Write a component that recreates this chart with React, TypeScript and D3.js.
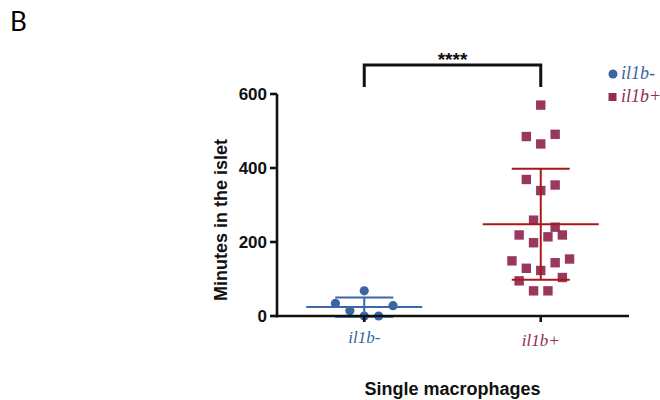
import React from "react";
import * as d3 from "d3";

const categories = ["il1b-", "il1b+"];
const negValues = [68, 34, 28, 14, 0, 0];
const negSlots = [0, -4, 4, -2, 0, 2];
const posValues = [570, 485, 491, 465, 369, 354, 339, 259, 240, 219, 198, 214, 219, 149, 129, 123, 144, 154, 95, 104, 68, 68];
const posSlots = [0, -2, 2, 0, -2, 2, 0, -1, 2, -3, -1, 1, 3, -4, -2, 0, 2, 4, -3, 3, -1, 1];
const yTicks = [0, 200, 400, 600];
const significance = "****";
const xTitle = "Single macrophages";
const yTitle = "Minutes in the islet";
const panelLabel = "B";

const BLUE = "#3B64A3";
const BLUE_LINE = "#3C67A8";
const RED = "#922D55";
const RED_LINE = "#A81818";

export default function App() {
  const W = 660, H = 400;
  const y = d3.scaleLinear().domain([0, 600]).range([316, 94]);
  const x = d3.scalePoint<string>().domain(categories).range([276, 629]).padding(0.5);
  const jit = 7.2;
  const serif = "'Liberation Serif', 'DejaVu Serif', serif";
  const sans = "'Liberation Sans', Arial, sans-serif";

  const groups = [
    { cat: categories[0], vals: negValues, slots: negSlots, color: BLUE, line: BLUE_LINE, shape: "circle" },
    { cat: categories[1], vals: posValues, slots: posSlots, color: RED, line: RED_LINE, shape: "square" },
  ];

  const x0 = x(categories[0])!;
  const x1 = x(categories[1])!;

  return (
    <svg width={W} height={H} style={{ position: "absolute", left: 0, top: 0, background: "#fff" }}>
      <text x={10} y={31} fontFamily="Lato, 'Open Sans', sans-serif" fontSize={26}>{panelLabel}</text>

      {/* points */}
      {groups.map((g) =>
        g.vals.map((v, i) => {
          const cx = x(g.cat)! + g.slots[i] * jit;
          const cy = y(v);
          return g.shape === "circle" ? (
            <circle key={g.cat + i} cx={cx} cy={cy} r={4.6} fill={g.color} />
          ) : (
            <rect key={g.cat + i} x={cx - 4.7} y={cy - 4.7} width={9.4} height={9.4} fill={g.color} opacity={0.95} />
          );
        })
      )}

      {/* error bars */}
      {groups.map((g) => {
        const m = d3.mean(g.vals)!;
        const sd = d3.deviation(g.vals)!;
        const cx = x(g.cat)!;
        return (
          <g key={"eb" + g.cat} stroke={g.line} strokeWidth={2}>
            <line x1={cx - 58} x2={cx + 58} y1={y(m)} y2={y(m)} />
            <line x1={cx} x2={cx} y1={y(m + sd)} y2={y(m - sd)} />
            <line x1={cx - 29} x2={cx + 29} y1={y(m + sd)} y2={y(m + sd)} />
            <line x1={cx - 29} x2={cx + 29} y1={y(m - sd)} y2={y(m - sd)} />
          </g>
        );
      })}

      {/* axes */}
      <g stroke="#111" strokeWidth={2.6} fill="none">
        <line x1={277} x2={277} y1={y(600)} y2={y(0) + 1.3} />
        <line x1={275.7} x2={629} y1={y(0)} y2={y(0)} />
        {yTicks.map((t) => (
          <line key={t} x1={270} x2={277} y1={y(t)} y2={y(t)} />
        ))}
        {categories.map((c) => (
          <line key={c} x1={x(c)!} x2={x(c)!} y1={y(0)} y2={y(0) + 6} />
        ))}
      </g>
      {yTicks.map((t) => (
        <text key={t} x={267} y={y(t)} dy="0.36em" textAnchor="end" fontFamily={sans} fontWeight="bold" fontSize={17} fill="#111">
          {t}
        </text>
      ))}
      <text x={0} y={0} transform={`translate(227,220) rotate(-90)`} textAnchor="middle" fontFamily={sans} fontWeight="bold" fontSize={18} fill="#111">
        {yTitle}
      </text>

      {/* category labels */}
      <text x={x0} y={343} textAnchor="middle" fontFamily={serif} fontStyle="italic" fontSize={17} fill={BLUE}>{categories[0]}</text>
      <text x={x1} y={346} textAnchor="middle" fontFamily={serif} fontStyle="italic" fontSize={17} fill={RED}>{categories[1]}</text>

      <text x={(x0 + x1) / 2} y={395} textAnchor="middle" fontFamily={sans} fontWeight="bold" fontSize={18} fill="#111">{xTitle}</text>

      {/* significance bracket */}
      <path d={`M${x0},87 V65 H${x1} V87`} fill="none" stroke="#111" strokeWidth={3} />
      <text x={(x0 + x1) / 2} y={66} textAnchor="middle" fontFamily={sans} fontWeight="bold" fontSize={19} fill="#111">{significance}</text>

      {/* legend */}
      <circle cx={613} cy={74} r={4.5} fill={BLUE} />
      <text x={621} y={79} fontFamily={serif} fontStyle="italic" fontSize={18} fill={BLUE}>{categories[0]}</text>
      <rect x={608.5} y={93} width={8} height={8} fill={RED} />
      <text x={621} y={102} fontFamily={serif} fontStyle="italic" fontSize={18} fill={RED}>{categories[1]}</text>
    </svg>
  );
}
